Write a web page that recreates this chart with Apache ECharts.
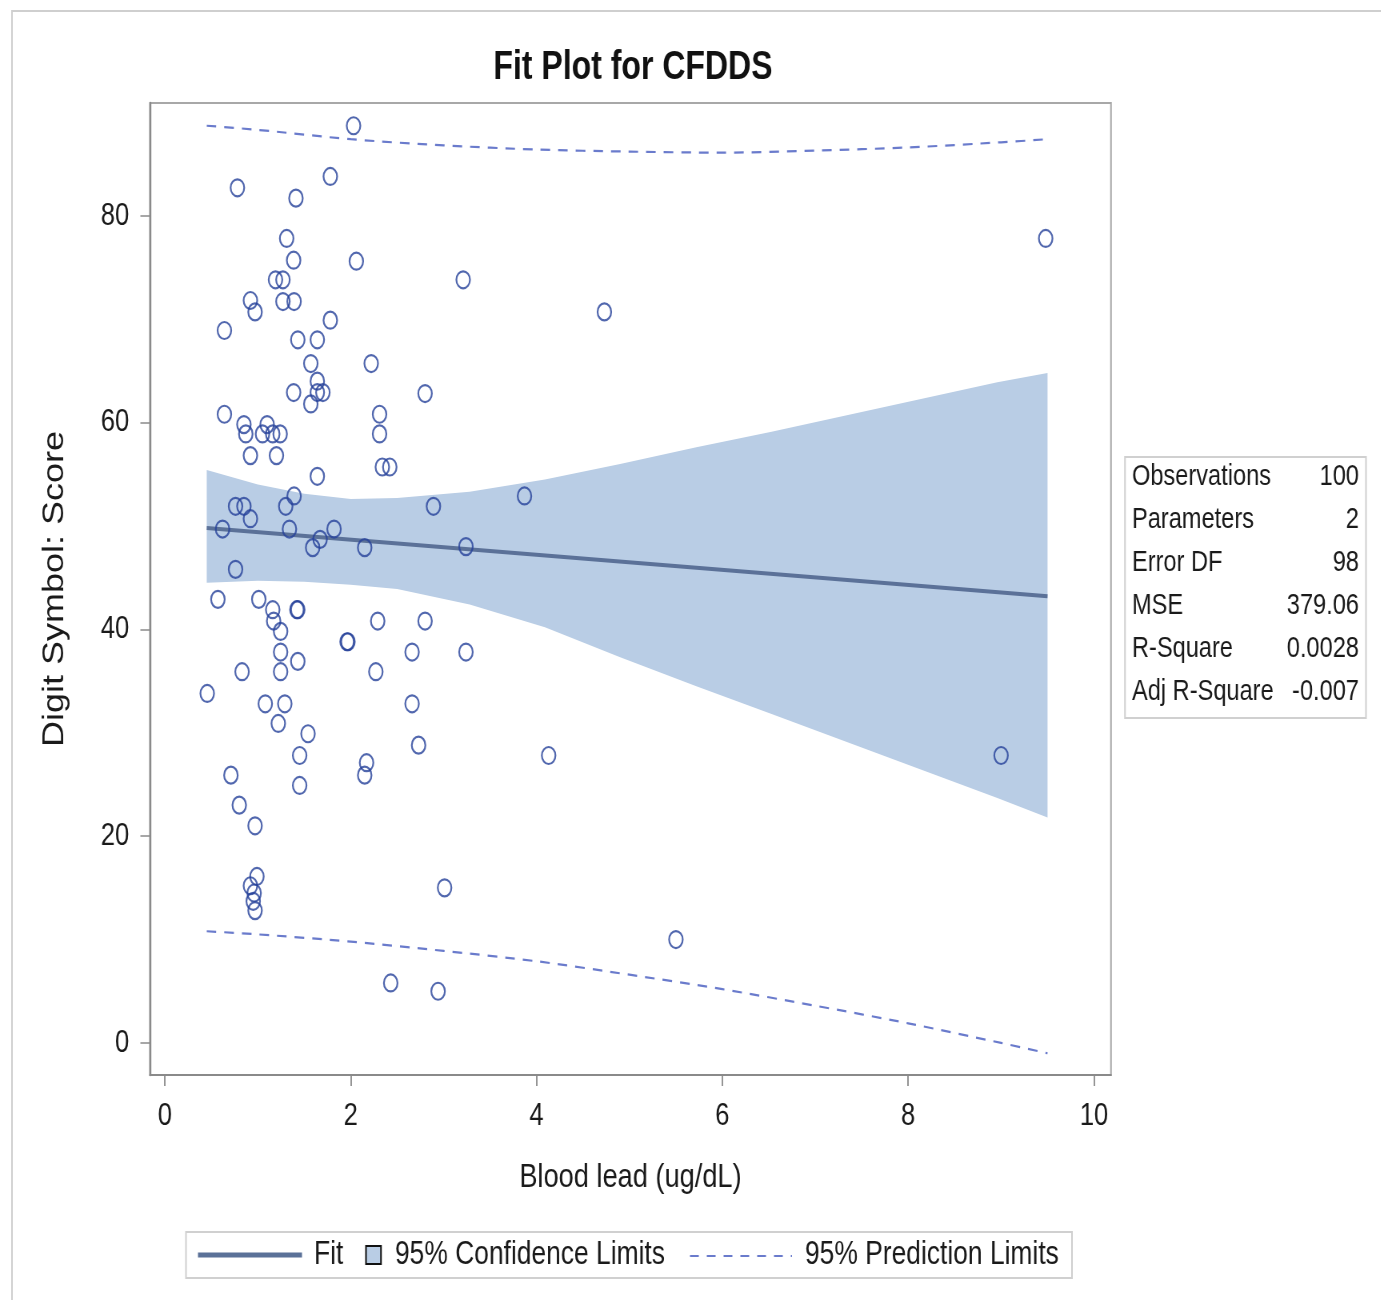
<!DOCTYPE html>
<html>
<head>
<meta charset="utf-8">
<script src="https://cdn.jsdelivr.net/npm/echarts@6/dist/echarts.min.js"></script>
<style>
  html, body { margin: 0; padding: 0; background: #fff; overflow: hidden; }
  #wrap { width: 1381px; height: 1300px; overflow: hidden; position: relative; }
  /* the reference picture is horizontally condensed (~0.8), so the chart is drawn wider and squeezed */
  #chart { width: 1726px; height: 1300px; transform: scaleX(0.8); transform-origin: 0 0; }
</style>
</head>
<body>
<div id="wrap"><div id="chart"></div></div>
<script>
// ---------------- data ----------------
const leadX = [2.03,0.78,1.78,1.41,1.31,1.385,2.06,1.19,1.27,0.92,
  0.97,1.27,1.39,1.78,0.64,1.43,1.64,3.21,4.73,1.57,
  2.22,1.64,1.64,1.70,1.385,1.57,2.80,0.64,2.31,2.31,
  0.85,1.10,0.87,1.05,1.16,1.24,0.92,1.20,2.34,2.42,
  1.64,1.39,1.30,0.76,0.85,0.92,2.89,0.62,1.34,1.82,
  1.67,1.59,2.15,3.24,3.87,0.76,0.57,1.01,1.16,1.42,
  1.43,1.17,1.245,2.29,2.80,1.96,1.97,1.245,1.43,2.66,
  3.24,0.83,1.245,2.27,0.455,1.08,1.29,2.66,1.22,1.54,
  2.73,1.45,2.17,2.15,0.71,1.45,0.80,0.97,0.99,0.92,
  0.96,0.95,0.97,3.01,2.43,2.94,5.50,4.13,9.48,9.00];
const scoreY = [88.7,82.7,83.8,81.7,77.8,75.7,75.6,73.8,73.8,71.8,
  70.7,71.7,71.7,69.9,68.9,68.0,68.0,73.8,70.7,65.7,
  65.7,64.0,62.9,62.9,62.9,61.8,62.8,60.8,60.8,58.9,
  59.8,59.8,58.9,58.9,58.9,58.9,56.8,56.8,55.7,55.7,
  54.8,52.9,51.9,51.9,51.9,50.7,51.9,49.7,49.7,49.7,
  48.7,47.9,47.9,48.0,52.9,45.8,42.9,42.9,41.9,41.9,
  41.9,40.8,39.8,40.8,40.8,38.8,38.8,37.8,36.9,37.8,
  37.8,35.9,35.9,35.9,33.8,32.8,32.8,32.8,30.9,29.9,
  28.8,27.8,27.1,25.9,25.9,24.9,23.0,21.0,16.1,15.2,
  14.5,13.7,12.8,15.0,5.8,5.0,10.0,27.8,77.8,27.8];

const fitX = [0.45, 9.5];
const fitY = [49.8, 43.2];

const bandX     = [0.45, 1.0, 1.5, 2.0, 2.5, 3.28, 4.09, 4.90, 5.72, 6.53, 7.34, 8.15, 8.96, 9.5];
const bandUpper = [55.4, 54.0, 53.1, 52.6, 52.7, 53.3, 54.5, 56.0, 57.6, 59.1, 60.7, 62.3, 63.9, 64.8];
const bandLower = [44.5, 44.7, 44.6, 44.3, 43.9, 42.4, 40.2, 37.3, 34.5, 31.8, 29.1, 26.4, 23.7, 21.8];

const predX     = [0.45, 1, 2, 3, 4, 5, 6, 7, 8, 9, 9.5];
const predUpper = [88.7, 88.3, 87.4, 86.8, 86.4, 86.2, 86.1, 86.3, 86.6, 87.1, 87.4];
const predLower = [10.8, 10.5, 9.8, 8.9, 7.9, 6.6, 5.2, 3.6, 1.9, 0.0, -1.0];

const xTicks = [0, 2, 4, 6, 8, 10];
const yTicks = [0, 20, 40, 60, 80];

const statLabels = ['Observations', 'Parameters', 'Error DF', 'MSE', 'R-Square', 'Adj R-Square'];
const statValues = ['100', '2', '98', '379.06', '0.0028', '-0.007'];

const legendLabels = ['Fit', '95% Confidence Limits', '95% Prediction Limits'];

// ---------------- style ----------------
const SX = 0.8; // horizontal squeeze applied by CSS; x positions below are divided by it
const FONT = "'Liberation Sans', Arial, sans-serif";
const C_POINT = '#25419a';
const C_BAND = '#b9cde5';
const C_FIT = '#5b7198';
const C_PRED = '#6a7bcc';
const C_TEXT = '#1a1a1a';
const px = v => v / SX;

const chart = echarts.init(document.getElementById('chart'), null, { renderer: 'canvas' });

const scatterData = leadX.map((x, i) => [x, scoreY[i]]);
const fitData = fitX.map((x, i) => [x, fitY[i]]);
const predUpData = predX.map((x, i) => [x, predUpper[i]]);
const predLoData = predX.map((x, i) => [x, predLower[i]]);

const graphics = [];
// outer frame
graphics.push({ type: 'rect', shape: { x: px(12), y: 11, width: 1800, height: 1400 },
  style: { fill: 'none', stroke: '#cfcfcf', lineWidth: 2 }, silent: true });
// stats table
const tblX = px(1125), tblY = 457, tblW = px(241), tblH = 261, rowH = 43;
graphics.push({ type: 'rect', shape: { x: tblX, y: tblY, width: tblW, height: tblH },
  style: { fill: '#fff', stroke: '#d0d0d0', lineWidth: 2 } });
statLabels.forEach((lab, i) => {
  const cy = tblY + 20 + i * rowH;
  graphics.push({ type: 'text', x: px(1132), y: cy,
    style: { text: lab, font: '29.5px ' + FONT, fill: C_TEXT, textAlign: 'left', textVerticalAlign: 'middle' } });
  graphics.push({ type: 'text', x: px(1359), y: cy,
    style: { text: statValues[i], font: '29.5px ' + FONT, fill: C_TEXT, textAlign: 'right', textVerticalAlign: 'middle' } });
});
// legend
const lgY = 1255;
graphics.push({ type: 'rect', shape: { x: px(186), y: 1232, width: px(886), height: 46 },
  style: { fill: '#fff', stroke: '#d0d0d0', lineWidth: 2 } });
graphics.push({ type: 'line', shape: { x1: px(198), y1: lgY, x2: px(302), y2: lgY },
  style: { stroke: C_FIT, lineWidth: 5 } });
graphics.push({ type: 'text', x: px(314), y: lgY,
  style: { text: legendLabels[0], font: '33px ' + FONT, fill: C_TEXT, textAlign: 'left', textVerticalAlign: 'middle' } });
graphics.push({ type: 'rect', shape: { x: px(366), y: 1246, width: px(15), height: 18 },
  style: { fill: C_BAND, stroke: '#111', lineWidth: 2 } });
graphics.push({ type: 'text', x: px(395), y: lgY,
  style: { text: legendLabels[1], font: '33px ' + FONT, fill: C_TEXT, textAlign: 'left', textVerticalAlign: 'middle' } });
graphics.push({ type: 'line', shape: { x1: px(690), y1: lgY + 1, x2: px(792), y2: lgY + 1 },
  style: { stroke: C_PRED, lineWidth: 2, lineDash: [11, 10] } });
graphics.push({ type: 'text', x: px(805), y: lgY,
  style: { text: legendLabels[2], font: '33px ' + FONT, fill: C_TEXT, textAlign: 'left', textVerticalAlign: 'middle' } });

const option = {
  backgroundColor: '#fff',
  animation: false,
  textStyle: { fontFamily: FONT },
  title: {
    text: 'Fit Plot for CFDDS',
    left: px(629), top: 43, textAlign: 'center',
    textStyle: { fontFamily: FONT, fontWeight: 'bold', fontSize: 40, color: '#111' }
  },
  grid: {
    left: px(150), top: 103, width: px(961), height: 972,
    show: true, borderColor: '#a8a8a8', borderWidth: 2, backgroundColor: '#fff'
  },
  xAxis: {
    type: 'value', min: -0.161, max: 10.183,
    name: 'Blood lead (ug/dL)', nameLocation: 'middle', nameGap: 86,
    nameTextStyle: { fontFamily: FONT, fontSize: 34, color: C_TEXT },
    axisLine: { show: true, onZero: false, lineStyle: { color: '#8a8a8a', width: 2 } },
    axisTick: { show: true, length: 11, customValues: xTicks, lineStyle: { color: '#8a8a8a', width: 1.8 } },
    axisLabel: { customValues: xTicks, fontFamily: FONT, fontSize: 32, color: C_TEXT, margin: 25 },
    splitLine: { show: false }
  },
  yAxis: {
    type: 'value', min: -3.1, max: 90.9,
    name: 'Digit Symbol: Score', nameLocation: 'middle', nameGap: 100, nameRotate: 90,
    nameTextStyle: { fontFamily: FONT, fontSize: 36, color: C_TEXT },
    axisLine: { show: true, onZero: false, lineStyle: { color: '#8a8a8a', width: 2.4 } },
    axisTick: { show: true, length: 12, customValues: yTicks, lineStyle: { color: '#8a8a8a', width: 1.5 } },
    axisLabel: { customValues: yTicks, fontFamily: FONT, fontSize: 32, color: C_TEXT, margin: 26 },
    splitLine: { show: false }
  },
  series: [
    {
      type: 'custom', name: '95% Confidence Limits', z: 1, clip: true,
      data: [[bandX[0], bandUpper[0]]],
      renderItem: function (params, api) {
        const pts = [];
        for (let i = 0; i < bandX.length; i++) pts.push(api.coord([bandX[i], bandUpper[i]]));
        for (let i = bandX.length - 1; i >= 0; i--) pts.push(api.coord([bandX[i], bandLower[i]]));
        return { type: 'polygon', shape: { points: pts }, style: { fill: C_BAND, stroke: null } };
      },
      silent: true
    },
    {
      type: 'line', name: 'Fit', data: fitData, z: 3, symbol: 'none',
      lineStyle: { color: C_FIT, width: 4 }, silent: true
    },
    {
      type: 'line', name: '95% Prediction Limits', data: predUpData, z: 3, symbol: 'none', smooth: 0.3,
      lineStyle: { color: C_PRED, width: 2.2, type: [12, 10] }, silent: true
    },
    {
      type: 'line', name: '95% Prediction Limits (lower)', data: predLoData, z: 3, symbol: 'none', smooth: 0.3,
      lineStyle: { color: C_PRED, width: 2.2, type: [12, 10] }, silent: true
    },
    {
      type: 'scatter', name: 'Observations', data: scatterData, z: 5,
      symbol: 'circle', symbolSize: 17,
      itemStyle: { color: 'rgba(0,0,0,0)', borderColor: C_POINT, borderWidth: 2.2 },
      silent: true
    }
  ],
  graphic: graphics
};
chart.setOption(option);
</script>
</body>
</html>
